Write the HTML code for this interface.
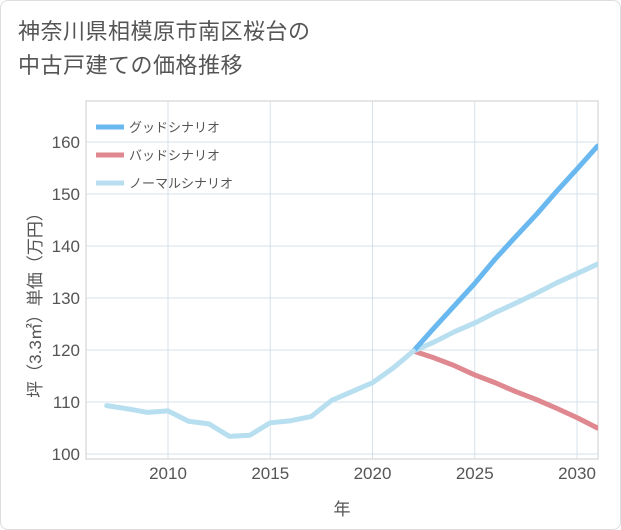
<!DOCTYPE html>
<html><head><meta charset="utf-8"><style>
body{margin:0;background:#fff;font-family:"Liberation Sans","Noto Sans CJK JP",sans-serif;}
#card{position:absolute;left:0;top:0;width:619px;height:528px;border:1px solid #ddd;border-radius:8px;background:#fff;overflow:hidden}
#title{position:absolute;left:17px;top:14px;font-size:22px;line-height:34px;color:#555;letter-spacing:0.5px}
</style></head><body>
<div id="card">
<div id="title">神奈川県相模原市南区桜台の<br>中古戸建ての価格推移</div>
<svg id="chart" width="621" height="530" style="position:absolute;left:0;top:0"></svg>
</div>
<script>
const years=[2007,2008,2009,2010,2011,2012,2013,2014,2015,2016,2017,2018,2019,2020,2021,2022];
const history=[109.3,108.7,108.0,108.3,106.3,105.8,103.4,103.6,106.0,106.4,107.2,110.3,112.0,113.7,116.5,119.8];
const futureYears=[2022,2023,2024,2025,2026,2027,2028,2029,2030,2031];
const good=[119.8,124.2,128.5,132.8,137.5,141.8,146.0,150.5,154.8,159.2];
const bad=[119.8,118.5,117.0,115.2,113.7,112.0,110.5,108.8,107.0,105.0];
const normal=[119.8,121.5,123.5,125.2,127.2,129.0,130.9,132.9,134.7,136.5];
const xTicks=[2010,2015,2020,2025,2030];
const yTicks=[100,110,120,130,140,150,160];
const L=85,R=597,T=100,B=458;
const x=v=>167+(v-2010)*20.45;
const y=v=>453-(v-100)*5.2;
const svg=document.getElementById('chart');
const NS='http://www.w3.org/2000/svg';
function mk(t,a,p){const e=document.createElementNS(NS,t);for(const k in a)e.setAttribute(k,a[k]);(p||svg).appendChild(e);return e;}
let bg=mk('rect',{x:L,y:T,width:R-L,height:B-T,fill:'#fff',stroke:'#ccc'});


for(const t of xTicks){
 let g=mk('line',{x1:x(t),x2:x(t),y1:T,y2:B,stroke:'#d6e2ea'});
 
 
 let l=mk('text',{x:x(t),y:B+20,'text-anchor':'middle','font-size':17,fill:'#555'});l.textContent=t;
 
 
}
for(const t of yTicks){
 let g=mk('line',{x1:L,x2:R,y1:y(t),y2:y(t),stroke:'#d6e2ea'});
 
 
 let l=mk('text',{x:L-6,y:y(t)+6,'text-anchor':'end','font-size':17,fill:'#555'});l.textContent=t;
 
 
}
function line(xs,vs,color,name){
 const p=mk('polyline',{points:xs.map((v,i)=>x(v)+','+y(vs[i])).join(' '),fill:'none',stroke:color,'stroke-width':5,'stroke-linejoin':'round','stroke-linecap':'round'});
 
 
}
const cp=mk('clipPath',{id:'cp'});mk('rect',{x:L,y:T,width:R-L,height:B-T},cp);
line(futureYears,bad,'#e08890','bad-scenario-line');
line(futureYears,normal,'#b8dff0','normal-scenario-line');
line(futureYears,good,'#6ab8f0','good-scenario-line');
line(years,history,'#b8dff0','history-line');
svg.querySelectorAll('polyline').forEach(p=>p.setAttribute('clip-path','url(#cp)'));
const legend=[['グッドシナリオ','#6ab8f0'],['バッドシナリオ','#e08890'],['ノーマルシナリオ','#b8dff0']];
legend.forEach((d,i)=>{
 const yy=126+i*28;
 let s=mk('line',{x1:95,x2:123,y1:yy,y2:yy,stroke:d[1],'stroke-width':5});
 
 
 let t=mk('text',{x:128,y:yy+5,'font-size':13,fill:'#555'});t.textContent=d[0];
 
 
});
let xt=mk('text',{x:341,y:514,'text-anchor':'middle','font-size':17,fill:'#555'});xt.textContent='年';


let yt=mk('text',{x:0,y:0,'text-anchor':'middle','font-size':17,fill:'#555',transform:'translate(40,300) rotate(-90)'});yt.textContent='坪（3.3㎡）単価（万円）';


</script>
</body></html>
